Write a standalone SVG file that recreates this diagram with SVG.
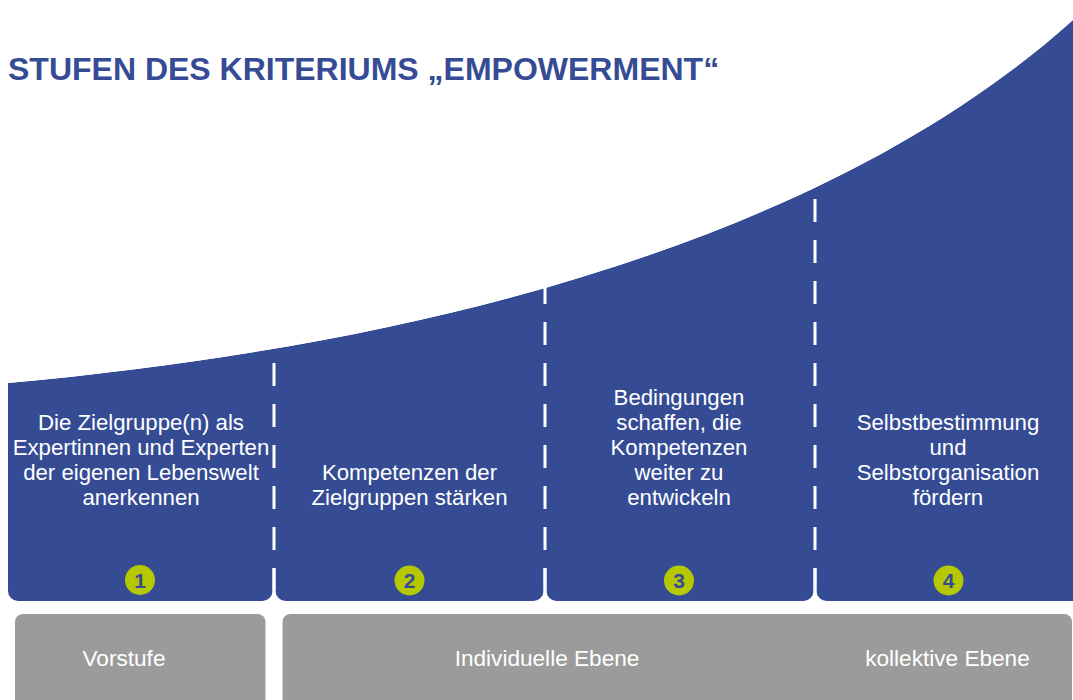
<svg xmlns="http://www.w3.org/2000/svg" width="1073" height="700" viewBox="0 0 1073 700">
<style>
.t{font-family:"Liberation Sans",Arial,sans-serif;font-size:22.2px;fill:#ffffff;text-anchor:middle}
.b{font-family:"Liberation Sans",Arial,sans-serif;font-size:22.6px;fill:#ffffff;text-anchor:middle}
.num{font-family:"Liberation Sans",Arial,sans-serif;font-size:21px;font-weight:bold;fill:#354c95;text-anchor:middle}
.dot{fill:#b5c800}
.sep{stroke:#ffffff;stroke-width:3;stroke-dasharray:23 18;fill:none}
.notch{fill:#ffffff}
.bar{fill:#9b9b9b}
</style>
<rect width="1073" height="700" fill="#ffffff"/>
<g id="curve-shape">
<path d="M8 383 C480 340 850 220 1073 20 L1073 601 L18 601 A10 10 0 0 1 8 591 Z" fill="#354c95"/>
</g>
<g id="separators">
<line class="sep" x1="274" y1="363" x2="274" y2="591"/>
<line class="sep" x1="545" y1="281" x2="545" y2="591"/>
<line class="sep" x1="815" y1="199" x2="815" y2="591"/>
<path class="notch" d="M272.5 568 L272.5 591 A10 10 0 0 1 262.5 601 L285.5 601 A10 10 0 0 1 275.5 591 L275.5 568 Z"/>
<path class="notch" d="M543.5 568 L543.5 591 A10 10 0 0 1 533.5 601 L556.5 601 A10 10 0 0 1 546.5 591 L546.5 568 Z"/>
<path class="notch" d="M813.5 568 L813.5 591 A10 10 0 0 1 803.5 601 L826.5 601 A10 10 0 0 1 816.5 591 L816.5 568 Z"/>
<path d="M8 383 C480 340 850 220 1073 20 L1073 0 L0 0 L0 400 Z" fill="#ffffff"/>
</g>
<text id="title" x="8" y="79.5" style="font-family:'Liberation Sans',Arial,sans-serif;font-size:32px;font-weight:bold;fill:#354c95">STUFEN DES KRITERIUMS „EMPOWERMENT“</text>
<g id="stage1">
<text class="t" x="141" y="430">Die Zielgruppe(n) als</text>
<text class="t" x="141" y="455">Expertinnen und Experten</text>
<text class="t" x="141" y="480">der eigenen Lebenswelt</text>
<text class="t" x="141" y="505">anerkennen</text>
<circle class="dot" cx="140" cy="580" r="15"/>
<text class="num" x="140" y="587.5">1</text>
</g>
<g id="stage2">
<text class="t" x="409.5" y="480">Kompetenzen der</text>
<text class="t" x="409.5" y="505">Zielgruppen stärken</text>
<circle class="dot" cx="409.5" cy="580.5" r="15"/>
<text class="num" x="409.5" y="588">2</text>
</g>
<g id="stage3">
<text class="t" x="679" y="405">Bedingungen</text>
<text class="t" x="679" y="430">schaffen, die</text>
<text class="t" x="679" y="455">Kompetenzen</text>
<text class="t" x="679" y="480">weiter zu</text>
<text class="t" x="679" y="505">entwickeln</text>
<circle class="dot" cx="679" cy="580.5" r="15"/>
<text class="num" x="679" y="588">3</text>
</g>
<g id="stage4">
<text class="t" x="948" y="430">Selbstbestimmung</text>
<text class="t" x="948" y="455">und</text>
<text class="t" x="948" y="480">Selbstorganisation</text>
<text class="t" x="948" y="505">fördern</text>
<circle class="dot" cx="948.5" cy="580.5" r="15"/>
<text class="num" x="948.5" y="588">4</text>
</g>
<g id="level-vorstufe">
<rect class="bar" x="15" y="614" width="250.5" height="100" rx="8"/>
<text class="b" x="124" y="666">Vorstufe</text>
</g>
<g id="level-individuell-kollektiv">
<rect class="bar" x="282.5" y="614" width="789.5" height="100" rx="8"/>
<text class="b" x="547" y="666">Individuelle Ebene</text>
<text class="b" x="947.5" y="666">kollektive Ebene</text>
</g>
</svg>
